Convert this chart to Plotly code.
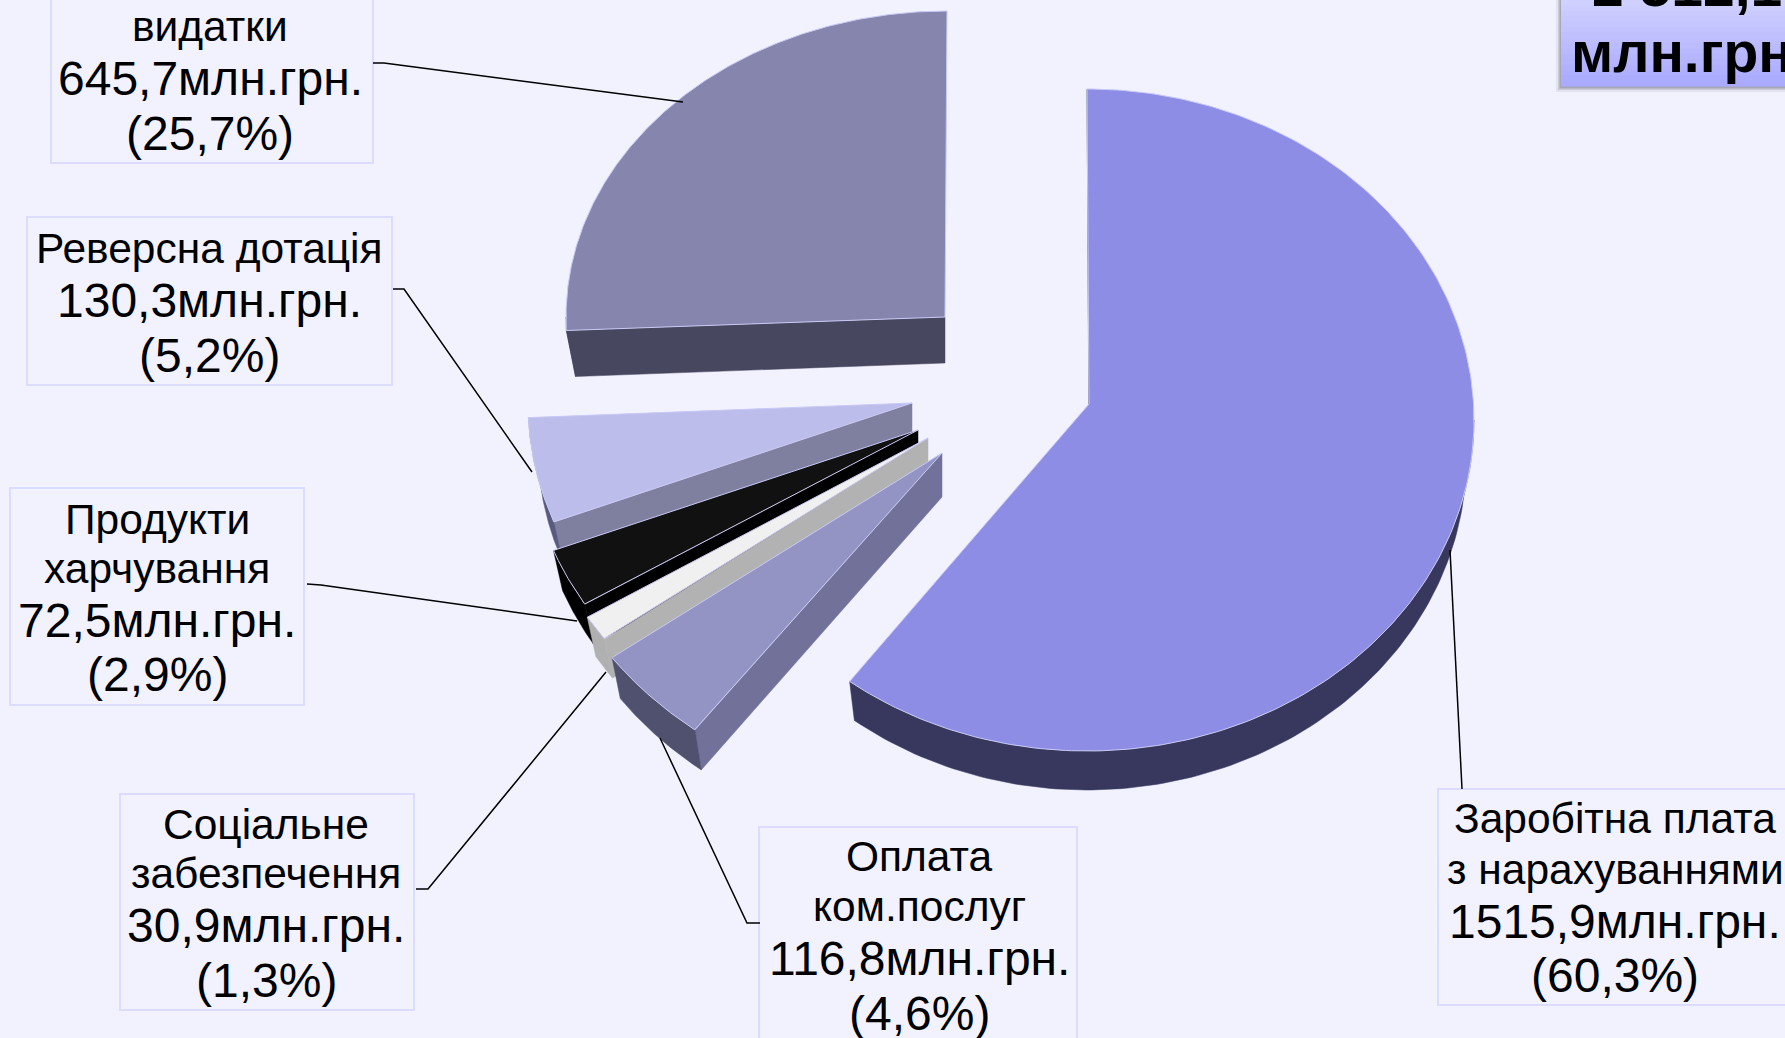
import numpy as np
import plotly.graph_objects as go

# ---------- data ----------
NAMES = ["Заробітна плата з нарахуваннями", "Оплата ком.послуг", "Соціальне забезпечення",
         "Продукти харчування", "Реверсна дотація", "Інші видатки"]
VALUES = [1515.9, 116.8, 30.9, 72.5, 130.3, 645.7]
AMOUNT_TEXT = ["1515,9млн.грн.", "116,8млн.грн.", "30,9млн.грн.", "72,5млн.грн.", "130,3млн.грн.", "645,7млн.грн."]
PERCENT_TEXT = ["(60,3%)", "(4,6%)", "(1,3%)", "(2,9%)", "(5,2%)", "(25,7%)"]
NAME_LINES = [["Заробітна плата", "з нарахуваннями"], ["Оплата", "ком.послуг"], ["Соціальне", "забезпечення"],
              ["Продукти", "харчування"], ["Реверсна дотація"], ["видатки"]]
TOTAL_LINES = ["2 512,1", "млн.грн"]

# ---------- geometry / style (pixel-like axis units) ----------
W, H = 1785, 1038
BG = "#F2F2FF"
FONT = "Liberation Sans"
# per-slice: apex x/y, ellipse centre x/y, rx, ry, depth, k_x, k_y of lower rim, perspective bias of end angle
GEOM = [
    dict(ax=1089, ay=404, cx=1087, cy=420, rx=387, ry=331, d=39, kx=.98, ky=1.0, bias=0.6, top="#8D8DE6", radial="#38385F", arc="#38385F"),
    dict(ax=942, ay=453, cx=942, cy=453, rx=408, ry=348, d=44, kx=.975, ky=.985, bias=0, top="#9393C4", radial="#71719A", arc="#50506F"),
    dict(ax=928, ay=438, cx=928, cy=438, rx=400, ry=342, d=42, kx=.975, ky=.985, bias=0, top="#F0F0F0", radial="#B2B2B2", arc="#B0B0B0"),
    dict(ax=918, ay=430, cx=918, cy=430, rx=391, ry=333, d=42, kx=.975, ky=.985, bias=0, top="#111111", radial="#000000", arc="#000000"),
    dict(ax=912, ay=403, cx=912, cy=403, rx=384, ry=330, d=42, kx=.975, ky=.985, bias=0, top="#BDBDEC", radial="#7F7F9F", arc="#5A5A80"),
    dict(ax=945, ay=317, cx=947, cy=317, rx=381, ry=306, d=46, kx=.976, ky=1.0, bias=0, top="#8585AD", radial="#47475F", arc="#47475F"),
]
# painter order: far slices first
DRAW_ORDER = [5, 4, 3, 2, 1, 0]
EDGE = "#C9C9F5"

BOXES = [(1438, 789, 1795, 1005), (759, 827, 1077, 1050), (120, 794, 414, 1010),
         (10, 488, 304, 705), (27, 217, 392, 385), (51, -40, 373, 163)]
TEXT_X = [1615, 919, 266, 157, 209, 210]
TEXT_Y = [[818, 869, 921, 975], [856, 906, 958, 1013], [824, 873, 925, 980],
          [519, 568, 620, 674], [248, 300, 355], [26, 78, 133]]
LEADERS = [[(1462, 789), (1450, 550)], [(760, 923), (747, 923), (660, 738)],
           [(416, 889), (428, 889), (606, 672)], [(307, 584), (321, 585), (577, 621)],
           [(393, 289), (404, 289), (532, 472)], [(373, 63), (384, 63), (683, 102)]]
SIZE_NAME, SIZE_NUM = 42.5, 48

total = sum(VALUES)
edges = np.concatenate([[0], np.cumsum(VALUES)]) / total * 360.0
fig = go.Figure()


def rim(g, t, lower=False):
    th = np.radians(t)
    kx, ky, d = (g["kx"], g["ky"], g["d"]) if lower else (1, 1, 0)
    return g["cx"] + g["rx"] * kx * np.sin(th), g["cy"] + d - g["ry"] * ky * np.cos(th)


def poly(x, y, color, line=None, name=None):
    fig.add_trace(go.Scatter(x=list(x), y=list(y), mode="lines", fill="toself", fillcolor=color,
                             line=dict(color=line or color, width=1 if line else 0.5),
                             hoverinfo="text" if name else "skip", text=name, showlegend=False))


shapes = []
# total box: soft shadow + vertical gradient bands
TX0, TY1 = 1561, 86
for grow, alpha in ((5, 0.10), (3, 0.18), (1.5, 0.30)):
    shapes.append(dict(type="rect", x0=TX0 - grow, x1=W + 10, y0=-10, y1=TY1 + grow + 1,
                       fillcolor=f"rgba(90,90,110,{alpha})", line_width=0, layer="below"))
N = 16
for k in range(N):
    f = k / (N - 1)
    c = f"rgb({int(208 - 38 * f)},{int(208 - 38 * f)},255)"
    shapes.append(dict(type="rect", x0=TX0, x1=W + 5, y0=TY1 * k / N, y1=TY1 * (k + 1) / N + .5,
                       fillcolor=c, line_width=0, layer="below"))

for i in DRAW_ORDER:
    g = GEOM[i]
    t0, t1 = edges[i], edges[i + 1] + g["bias"]
    x0, y0 = rim(g, t0)
    x1, y1 = rim(g, t0, True)
    poly([g["ax"], x0, x1, g["ax"], g["ax"]], [g["ay"], y0, y1, g["ay"] + g["d"], g["ay"]], g["radial"])
    a0, a1 = max(t0, 90), min(t1, 270)
    if a1 > a0:
        ts = np.linspace(a0, a1, 120)
        xt, yt = rim(g, ts)
        xb, yb = rim(g, ts[::-1], True)
        poly(np.r_[xt, xb, xt[0]], np.r_[yt, yb, yt[0]], g["arc"])
    ts = np.linspace(t0, t1, 240)
    xt, yt = rim(g, ts)
    poly(np.r_[g["ax"], xt, g["ax"]], np.r_[g["ay"], yt, g["ay"]], g["top"], EDGE,
         f"{NAMES[i]}: {VALUES[i]}")

for b in BOXES:
    shapes.append(dict(type="rect", x0=b[0], y0=b[1], x1=b[2], y1=b[3], line=dict(color="#DCDCFF", width=2),
                       fillcolor="rgba(0,0,0,0)", layer="below"))
for pts in LEADERS:
    path = "M " + " L ".join(f"{x} {y}" for x, y in pts)
    shapes.append(dict(type="path", path=path, line=dict(color="#000000", width=1.5), layer="above"))

ann = []
for i in range(len(VALUES)):
    lines = NAME_LINES[i] + [AMOUNT_TEXT[i], PERCENT_TEXT[i]]
    for j, (txt, yy) in enumerate(zip(lines, TEXT_Y[i])):
        is_name = j < len(NAME_LINES[i])
        size = SIZE_NAME if is_name else SIZE_NUM
        ann.append(dict(x=TEXT_X[i], y=yy, text=txt, showarrow=False, xanchor="center", yanchor="middle",
                        font=dict(family=FONT, size=size, color="#000000")))
ann.append(dict(x=1569, y=52, text=TOTAL_LINES[1], showarrow=False, xanchor="left", yanchor="middle",
                font=dict(family=FONT, size=57, color="#000000", weight="bold")))
# the reference cuts this line at the top edge of the picture
fig.add_trace(go.Scatter(x=[1592], y=[-8], mode="text", text=[f"<b>{TOTAL_LINES[0]}</b>"], textposition="middle right",
                         textfont=dict(family=FONT, size=57, color="#000000"), cliponaxis=True,
                         hoverinfo="skip", showlegend=False))

fig.update_layout(
    width=W, height=H, margin=dict(l=0, r=0, t=0, b=0), autosize=False,
    paper_bgcolor=BG, plot_bgcolor=BG, showlegend=False,
    xaxis=dict(range=[0, W], visible=False, fixedrange=True),
    yaxis=dict(range=[H, 0], visible=False, fixedrange=True),
    shapes=shapes, annotations=ann,
)
fig.write_html("out.html", config=dict(displayModeBar=False),
               post_script="document.body.style.margin='0';document.body.style.overflow='hidden';document.documentElement.style.background='#F2F2FF';")
